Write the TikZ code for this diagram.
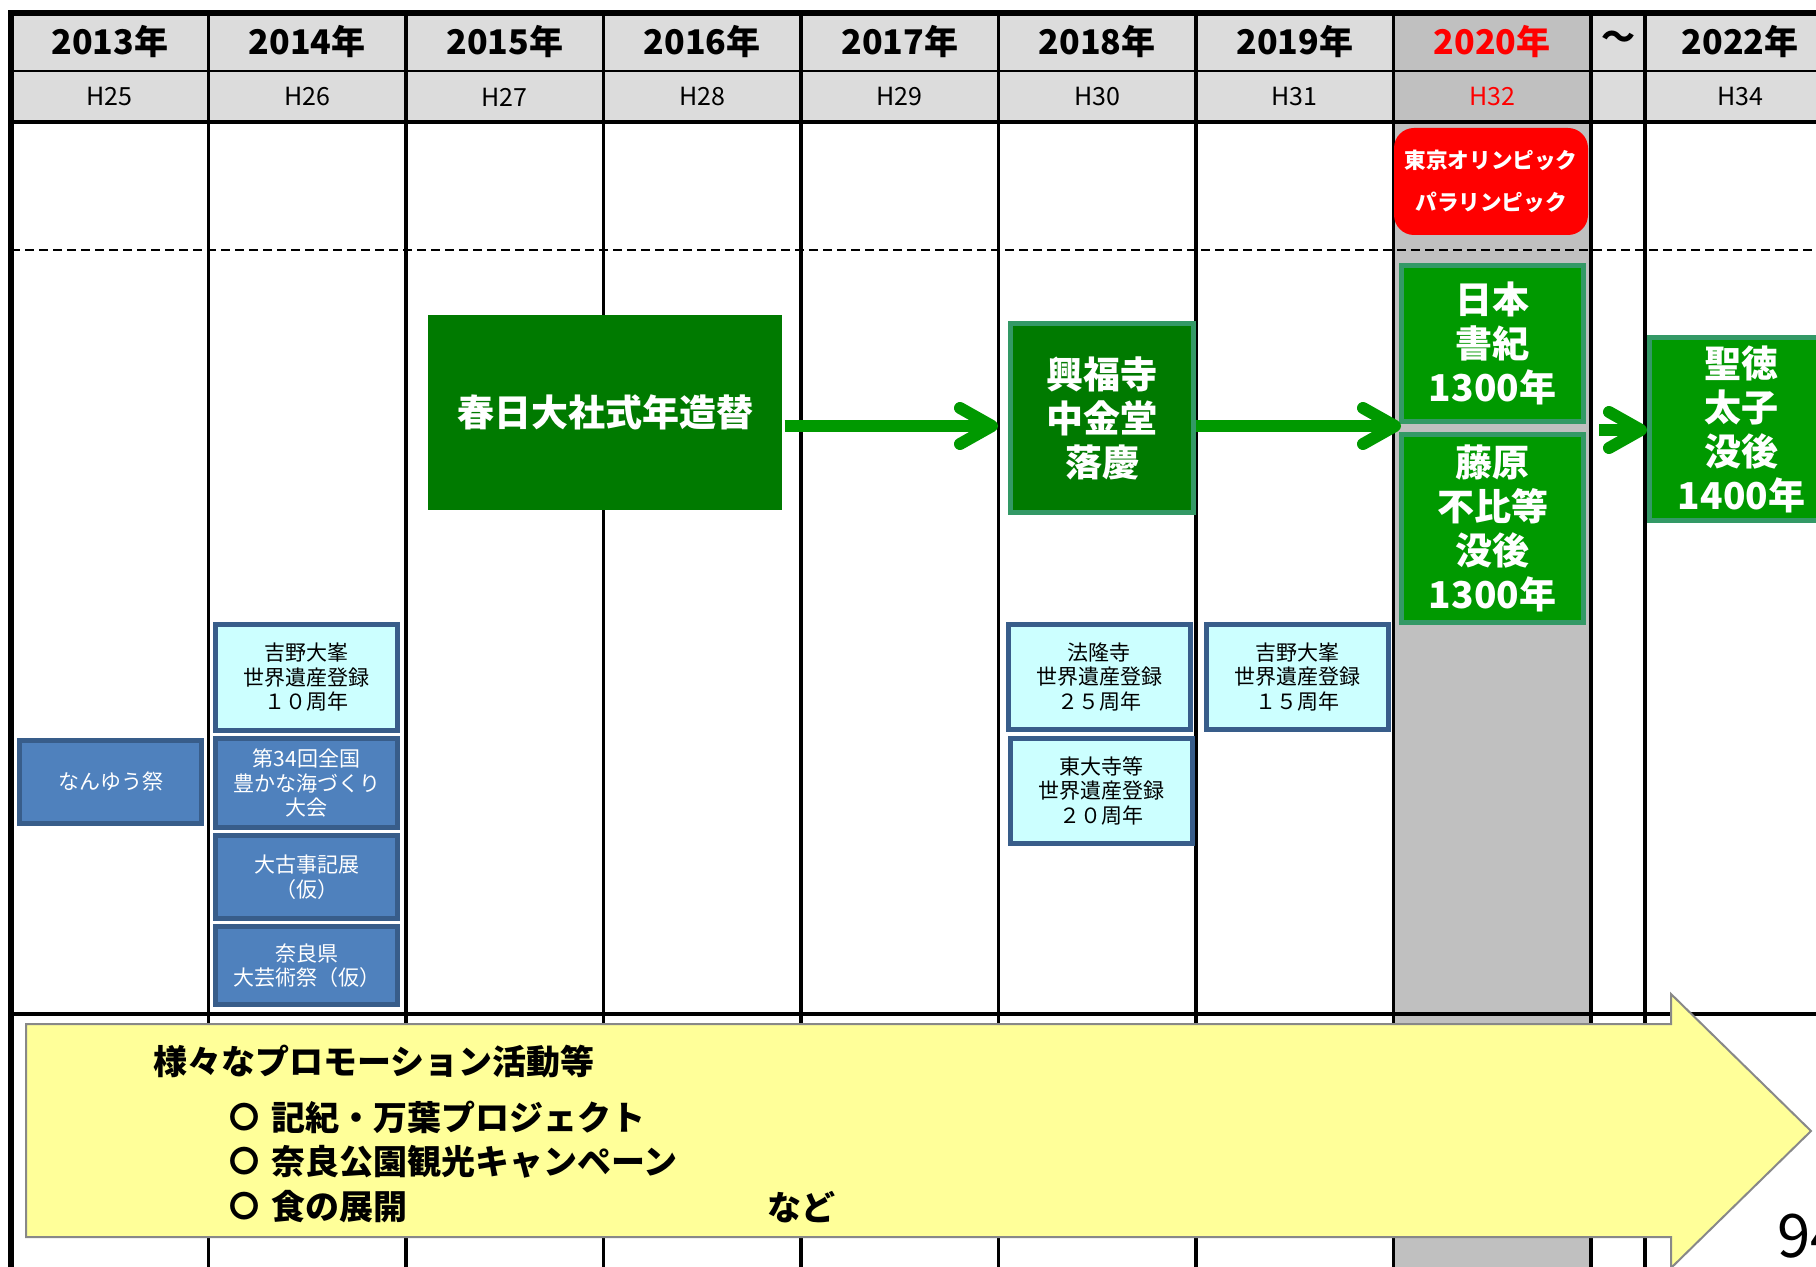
\documentclass[tikz,border=0pt]{standalone}
\usepackage{fontspec}
\setmainfont{Noto Sans CJK JP}
\usepackage{tikz}
\usetikzlibrary{arrows.meta}

\definecolor{headgray}{RGB}{220,220,220}
\definecolor{colgray}{RGB}{192,192,192}
\definecolor{darkgreen}{RGB}{0,122,0}
\definecolor{brightgreen}{RGB}{0,153,0}
\definecolor{edgegreen}{RGB}{51,153,102}
\definecolor{boxblue}{RGB}{79,129,189}
\definecolor{edgeblue}{RGB}{56,93,138}
\definecolor{lightcyan}{RGB}{204,255,255}
\definecolor{promoyellow}{RGB}{255,255,153}
\definecolor{promoedge}{RGB}{136,136,136}

\newcommand{\itemring}{\raisebox{1pt}{\fontsize{15}{18}\selectfont 〇}\hspace{6pt}}

\begin{document}
\begin{tikzpicture}[x=0.5pt,y=-0.5pt]

	\tikzstyle grid lines=[line width=1.6pt];
	\tikzstyle frame lines=[line width=3pt];
	\tikzstyle header lines=[line width=1.2pt];
	\tikzstyle dashed lines=[line width=1pt, dash pattern=on 4.5pt off 2.5pt];
	\tikzstyle year label=[font=\fontsize{17}{20}\selectfont\bfseries];
	\tikzstyle era label=[font=\fontsize{12.5}{15}\selectfont];
	\tikzstyle event box=[draw=edgeblue, line width=2.5pt, minimum width=91pt, inner sep=0pt, align=center, font=\fontsize{10.5}{12.25}\selectfont];
	\tikzstyle blue box=[event box, fill=boxblue, text=white];
	\tikzstyle cyan box=[event box, fill=lightcyan, text=black];
	\tikzstyle green box=[draw=edgegreen, line width=2.5pt, inner sep=0pt, align=center, text=white, font=\fontsize{18.5}{22}\selectfont\bfseries];
	\tikzstyle olympic box=[fill=red, rounded corners=10pt, minimum width=97pt, minimum height=53.5pt, inner sep=0pt, align=center, text=white, font=\fontsize{10.8}{21}\selectfont\bfseries];
	\tikzstyle green arrow=[draw=brightgreen, line width=6pt, -{Straight Barb[length=16pt,width=18pt,line width=6pt,round]}];
	\tikzstyle promo arrow=[fill=promoyellow, draw=promoedge, line width=1pt];
	\tikzstyle promo text=[anchor=west, inner sep=0pt, font=\fontsize{17}{20}\selectfont\bfseries];

	\useasboundingbox (0,0) rectangle (1816,1267);

	\fill[headgray] (11,13) rectangle (1842,122);
	\fill[colgray] (1393.5,13) rectangle (1591,1267);

	\draw[header lines] (11,71) -- (1842,71);
	\draw[grid lines] (11,122) -- (1842,122);
	\draw[dashed lines] (11,250) -- (1842,250);
	\draw[grid lines] (11,1014) -- (1842,1014);
	\foreach \x in {208.5,406,603.5,801,998.5,1196,1393.5,1591,1645}
		\draw[grid lines] (\x,13) -- (\x,1267);
	\draw[frame lines] (11,1267) -- (11,13) -- (1842,13);

	\foreach \i/\yr/\hh in {0/2013/25,1/2014/26,2/2015/27,3/2016/28,4/2017/29,5/2018/30,6/2019/31}
	{
		\node[year label] (year\yr) at ({109.75+197.5*\i},42) {\yr 年};
		\node[era label] (era\hh) at ({109.75+197.5*\i},97) {H\hh};
	}
	\node[year label, text=red] (year2020) at (1492,42) {2020年};
	\node[era label, text=red] (era32) at (1492,97) {H32};
	\node[year label] (tilde) at (1618,40) {〜};
	\node[year label] (year2022) at (1740,42) {2022年};
	\node[era label] (era34) at (1740,97) {H34};

	\node[olympic box] (olympic) at (1491,181.5) {東京オリンピック\\パラリンピック};

	\node[green box, fill=darkgreen, draw=none, minimum width=177pt, minimum height=97.5pt] (kasuga) at (605,412.5) {春日大社式年造替};
	\node[green box, fill=darkgreen, minimum width=91.5pt, minimum height=94.5pt] (kofuku) at (1102,418) {興福寺\\中金堂\\落慶};
	\node[green box, fill=brightgreen, minimum width=91pt, minimum height=78pt] (nihon) at (1492.5,343.5) {日本\\書紀\\1300年};
	\node[green box, fill=brightgreen, minimum width=91pt, minimum height=94pt] (fujiwara) at (1492.5,528.5) {藤原\\不比等\\没後\\1300年};
	\node[green box, fill=brightgreen, minimum width=92pt, minimum height=91.5pt] (shotoku) at (1741.5,429) {聖徳\\太子\\没後\\1400年};

	\coordinate (gap) at (1401,426);
	\coordinate (lead) at (1599,430);
	\draw[green arrow, shorten >=5pt] (kasuga.east |- gap) -- (kofuku.west |- gap);
	\draw[green arrow] (kofuku.east |- gap) -- (gap);
	\draw[green arrow] (lead) -- (shotoku.west |- lead);

	\node[blue box, minimum height=41.5pt] (nanyu) at (110.5,782) {なんゆう祭};
	\node[cyan box, minimum height=53pt] (yoshino10) at (306.5,677.5) {吉野大峯\\世界遺産登録\\１０周年};
	\node[blue box, minimum height=44.5pt] (umi) at (306.5,783) {第34回全国\\豊かな海づくり\\大会};
	\node[blue box, minimum height=41.5pt] (kojiki) at (306.5,877) {大古事記展\\（仮）};
	\node[blue box, minimum height=39pt] (geijutsu) at (306.5,965.5) {奈良県\\大芸術祭（仮）};
	\node[cyan box, minimum height=52.5pt] (horyuji) at (1099,677) {法隆寺\\世界遺産登録\\２５周年};
	\node[cyan box, minimum height=52.5pt] (todaiji) at (1101.5,791) {東大寺等\\世界遺産登録\\２０周年};
	\node[cyan box, minimum height=52.5pt] (yoshino15) at (1297.5,677) {吉野大峯\\世界遺産登録\\１５周年};

	\draw[promo arrow] (26,1024) -- (1671,1024) -- (1671,994) -- (1811,1131) -- (1671,1268) -- (1671,1237) -- (26,1237) -- cycle;

	\node[promo text] (promo) at (153,1062) {様々なプロモーション活動等};
	\node[promo text] (kiki) at (229,1117) {\itemring 記紀・万葉プロジェクト};
	\node[promo text] (nara) at (229,1162) {\itemring 奈良公園観光キャンペーン};
	\node[promo text] (food) at (229,1207) {\itemring 食の展開};
	\node[promo text] (nado) at (767,1207) {など};

	\node[anchor=base west, inner sep=0pt, font=\fontsize{30}{36}\selectfont] (page) at (1777,1257) {94};

\end{tikzpicture}
\end{document}
